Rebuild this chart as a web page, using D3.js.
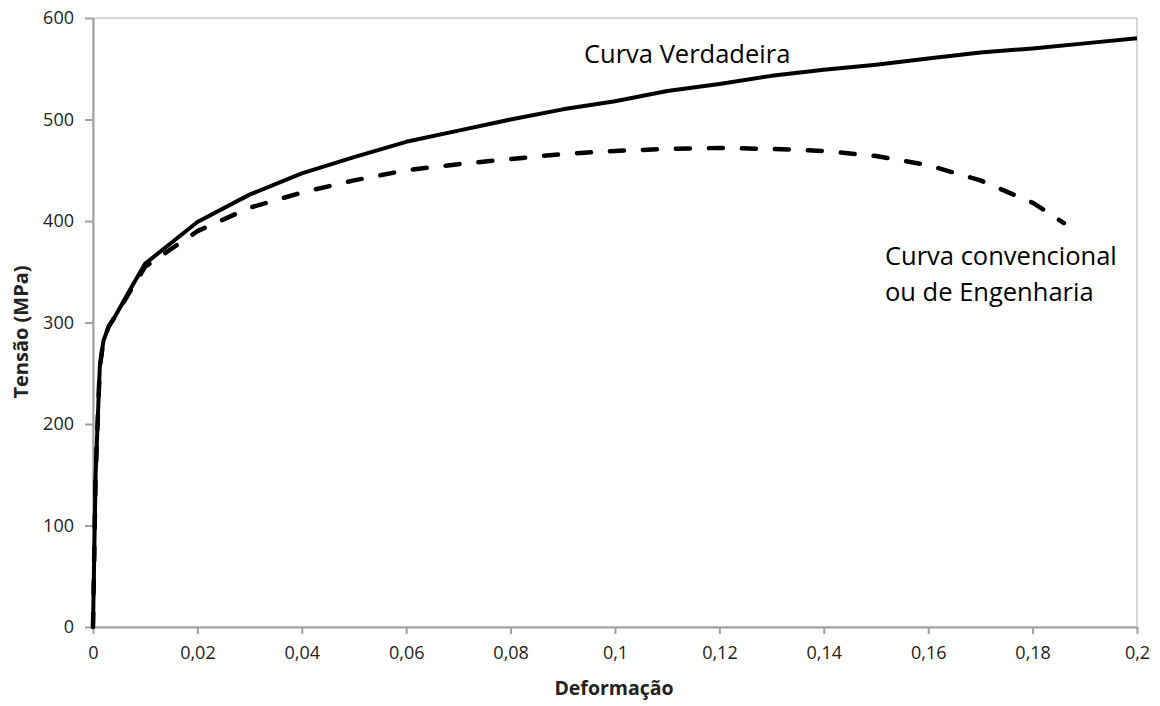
<!DOCTYPE html>
<html><head><meta charset="utf-8">
<script src="https://cdn.jsdelivr.net/npm/d3@7"></script>
<style>body{margin:0;background:#fff}</style>
</head><body>
<svg id="c" width="1160" height="706"></svg>
<script>
const trueX = [0,0.0002,0.0005,0.0013,0.002,0.003,0.004,0.0075,0.01,0.02,0.03,0.04,0.05,0.06,0.07,0.08,0.09,0.1,0.11,0.12,0.13,0.14,0.15,0.16,0.17,0.18,0.19,0.2];
const trueY = [0,60,150,256,282,296,304,336,358,399,426,447,463,478,489,500,510,518,528,535,543,549,554,560,566,570,575,580];
const engX = [0,0.0002,0.0005,0.0013,0.002,0.003,0.004,0.0075,0.01,0.02,0.03,0.04,0.05,0.06,0.07,0.08,0.09,0.1,0.11,0.12,0.13,0.14,0.15,0.16,0.17,0.18,0.186];
const engY = [0,60,150,256,282,296,304,334,355,390,413,428,440,450,456,461,466,469,471,472,471,469,464,455,440,418,398];
const xTicks = [0,0.02,0.04,0.06,0.08,0.1,0.12,0.14,0.16,0.18,0.2];
const yTicks = [0,100,200,300,400,500,600];
const labelTrue = "Curva Verdadeira";
const labelEng = ["Curva convencional","ou de Engenharia"];

const svg = d3.select("#c");
const L=93,R=1137,T=18,B=627;
const x = d3.scaleLinear().domain([0,0.2]).range([L,R]);
const y = d3.scaleLinear().domain([0,600]).range([B,T]);
const fmt = d => String(d).replace(".",",");
const af = "'Open Sans',sans-serif";

svg.append("rect").attr("x",L).attr("y",T).attr("width",R-L).attr("height",B-T)
  .attr("fill","none").attr("stroke","#bdbdbd").attr("stroke-width",1.2);

const xa = svg.append("g").attr("transform",`translate(0,${B})`)
  .call(d3.axisBottom(x).tickValues(xTicks).tickFormat(fmt).tickSize(7).tickSizeOuter(0).tickPadding(12));
const ya = svg.append("g").attr("transform",`translate(${L},0)`)
  .call(d3.axisLeft(y).tickValues(yTicks).tickSize(8).tickSizeOuter(0).tickPadding(11));
[xa,ya].forEach(a=>{
  a.selectAll("path,line").attr("stroke","#a0a0a0").attr("stroke-width",2);
  a.selectAll("text").attr("font-family",af).attr("font-size",18).attr("fill","#222");
});

const line = d3.line().x(d=>x(d[0])).y(d=>y(d[1]));
svg.append("path").datum(engX.map((v,i)=>[v,engY[i]]))
  .attr("d",line).attr("fill","none").attr("stroke","#000")
  .attr("stroke-width",4.5).attr("stroke-dasharray","14,19").attr("stroke-linecap","round").attr("stroke-linejoin","round");
svg.append("path").datum(trueX.map((v,i)=>[v,trueY[i]]))
  .attr("d",line).attr("fill","none").attr("stroke","#000")
  .attr("stroke-width",4).attr("stroke-linejoin","round");

svg.append("text").attr("x",584).attr("y",63).attr("font-family",af).attr("font-size",25.5).attr("fill","#000").text(labelTrue);
labelEng.forEach((t,i)=>svg.append("text").attr("x",885).attr("y",265+i*36).attr("font-family",af).attr("font-size",25.5).attr("fill","#000").text(t));

svg.append("text").attr("x",614).attr("y",695).attr("text-anchor","middle").attr("font-family",af)
  .attr("font-weight","bold").attr("font-size",19.5).attr("fill","#222").text("Deformação");
svg.append("text").attr("transform","translate(28,332) rotate(-90)").attr("text-anchor","middle").attr("font-family",af)
  .attr("font-weight","bold").attr("font-size",20).attr("fill","#222").text("Tensão (MPa)");
</script>
</body></html>
